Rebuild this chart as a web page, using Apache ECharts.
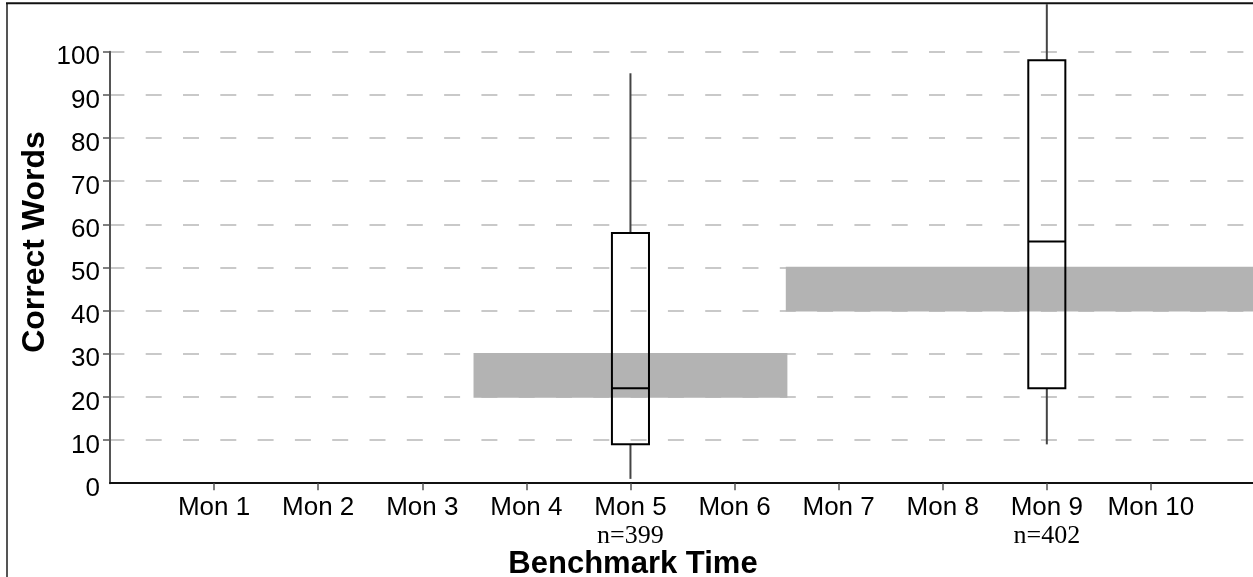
<!DOCTYPE html>
<html><head><meta charset="utf-8">
<script src="https://cdn.jsdelivr.net/npm/echarts@6/dist/echarts.min.js"></script>
<style>html,body{margin:0;padding:0;background:#fff}#c{width:1253px;height:577px}</style>
</head><body><div id="c"></div><script>
// ---- data ----
const categories = ['Mon 1','Mon 2','Mon 3','Mon 4','Mon 5','Mon 6','Mon 7','Mon 8','Mon 9','Mon 10'];
const yTickValues = [0,10,20,30,40,50,60,70,80,90,100];
const boxCategories = ['Mon 5','Mon 9'];
const boxLow    = [1, 9];
const boxQ1     = [9, 22];
const boxMedian = [22, 56];
const boxQ3     = [58, 98];
const boxHigh   = [95, 111];
const nValues   = [399, 402];
const bandFrom  = ['Mon 4','Mon 7'];
const bandTo    = ['Mon 6', null];   // null: runs to the end of the axis
const bandLow   = [20, 40];
const bandHigh  = [30, 50];

const X_MAX = 11;
const catPos = c => categories.indexOf(c) + 1;
const catTicks = categories.map((c, i) => i + 1);

const bandData = bandFrom.map((f, i) => [
  catPos(f) - 0.5,
  bandTo[i] === null ? X_MAX : catPos(bandTo[i]) + 0.5,
  bandLow[i], bandHigh[i]
]);
const boxData = boxCategories.map((c, i) => [catPos(c), boxLow[i], boxQ1[i], boxMedian[i], boxQ3[i], boxHigh[i]]);

const SANS = '"Liberation Sans", Arial, sans-serif';
const SERIF = '"Liberation Serif", "Times New Roman", serif';

const chart = echarts.init(document.getElementById('c'), null, {renderer: 'canvas'});
chart.setOption({
  animation: false,
  backgroundColor: '#fff',
  grid: {left: 110, right: -2, top: 51.7, bottom: 93.8, outerBoundsMode: 'none'},
  xAxis: {
    type: 'value', min: 0, max: X_MAX,
    axisLine: {show: true, lineStyle: {color: '#111', width: 2}},
    axisTick: {show: true, customValues: catTicks, length: 7, lineStyle: {color: '#555', width: 1.5}},
    axisLabel: {
      customValues: catTicks, margin: 9.5, color: '#000',
      fontFamily: SANS, fontSize: 26,
      formatter: v => {
        const c = categories[Math.round(v) - 1];
        const k = boxCategories.indexOf(c);
        return k >= 0 ? '{m|' + c + '}\n{n|n=' + nValues[k] + '}' : '{m|' + c + '}';
      },
      rich: {
        m: {fontFamily: SANS, fontSize: 26, lineHeight: 30, color: '#000'},
        n: {fontFamily: SERIF, fontSize: 26, lineHeight: 27, color: '#000'}
      }
    },
    splitLine: {show: false}
  },
  yAxis: {
    type: 'value', min: 0, max: 100,
    axisLine: {show: true, lineStyle: {color: '#555', width: 2}},
    axisTick: {show: true, customValues: yTickValues.filter(v => v > 0), length: 7, lineStyle: {color: '#555', width: 1.5}},
    axisLabel: {customValues: yTickValues, margin: 10, color: '#000', fontFamily: SANS, fontSize: 26,
                verticalAlign: 'top', lineHeight: 11},
    splitLine: {show: true, lineStyle: {color: '#b8b8b8', width: 1.5, type: [16, 21.3], dashOffset: 1.6}}
  },
  series: [
    {
      type: 'custom', name: 'Target', z: 2,
      data: bandData,
      encode: {x: [0, 1], y: [2, 3]},
      renderItem: (params, api) => {
        const p0 = api.coord([api.value(0), api.value(3)]);
        const p1 = api.coord([api.value(1), api.value(2)]);
        return {type: 'rect', shape: {x: p0[0], y: p0[1], width: p1[0] - p0[0], height: p1[1] - p0[1]},
                style: {fill: '#b3b3b3', stroke: '#b3b3b3', lineWidth: 1.6}};
      }
    },
    {
      type: 'custom', name: 'Correct Words', z: 3, clip: false,
      data: boxData,
      encode: {x: 0, y: [1, 2, 3, 4, 5]},
      renderItem: (params, api) => {
        const x = api.value(0);
        const w = api.size([1, 0])[0] * 0.356;
        const pl = api.coord([x, api.value(1)]);
        const p1 = api.coord([x, api.value(2)]);
        const pm = api.coord([x, api.value(3)]);
        const p3 = api.coord([x, api.value(4)]);
        const ph = api.coord([x, api.value(5)]);
        const cx = pl[0];
        return {type: 'group', children: [
          {type: 'line', shape: {x1: cx, y1: p1[1], x2: cx, y2: pl[1]}, style: {stroke: '#444', lineWidth: 2}},
          {type: 'line', shape: {x1: cx, y1: p3[1], x2: cx, y2: ph[1]}, style: {stroke: '#444', lineWidth: 2}},
          {type: 'rect', shape: {x: cx - w / 2, y: p3[1], width: w, height: p1[1] - p3[1]}, style: {fill: null, stroke: '#000', lineWidth: 2}},
          {type: 'line', shape: {x1: cx - w / 2, y1: pm[1], x2: cx + w / 2, y2: pm[1]}, style: {stroke: '#000', lineWidth: 2}}
        ]};
      }
    }
  ],
  graphic: [
    {type: 'line', shape: {x1: 7, y1: 3.3, x2: 7, y2: 590}, style: {stroke: '#555', lineWidth: 2}, z: 10},
    {type: 'line', shape: {x1: 6, y1: 3.3, x2: 1260, y2: 3.3}, style: {stroke: '#111', lineWidth: 2}, z: 10},
    {type: 'text', x: 633, y: 564, z: 10,
     style: {text: 'Benchmark Time', fontFamily: SANS, fontWeight: 'bold', fontSize: 31, fill: '#000', align: 'center', verticalAlign: 'middle'}},
    {type: 'text', x: 35, y: 242, rotation: Math.PI / 2, z: 10,
     style: {text: 'Correct Words', fontFamily: SANS, fontWeight: 'bold', fontSize: 32, fill: '#000', align: 'center', verticalAlign: 'middle'}}
  ]
});
</script></body></html>
